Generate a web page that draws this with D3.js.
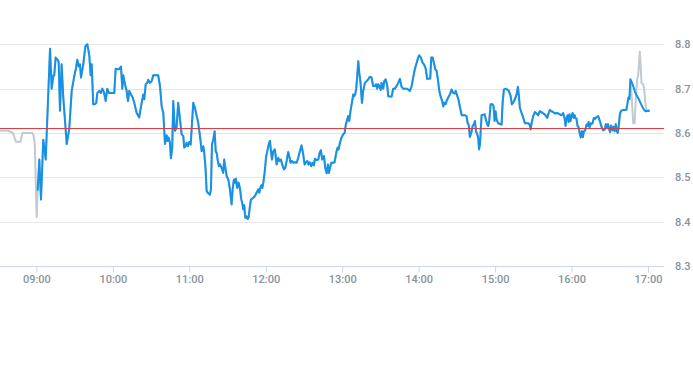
<!DOCTYPE html>
<html><head><meta charset="utf-8">
<script src="https://cdn.jsdelivr.net/npm/d3@7"></script>
<style>
html,body{margin:0;padding:0;background:#fff;}
svg{display:block;}
text{font-family:Roboto,"Liberation Sans",sans-serif;}
</style></head>
<body>
<svg id="chart" width="693" height="365"></svg>
<script>
// ---- data ----
const hourTicks = ["09:00","10:00","11:00","12:00","13:00","14:00","15:00","16:00","17:00"];
const priceTicks = [8.3, 8.4, 8.5, 8.6, 8.7, 8.8];
const referencePrice = 8.61;

// pre-market (minutes relative to 09:00)
const preMinutes = [-28.6,-22.3,-18.4,-16.0,-12.5,-11.0,-3.2,-2.3,-1.3,0.2];
const prePrices  = [8.605,8.605,8.60,8.58,8.58,8.60,8.60,8.595,8.578,8.41];

// main session (minutes after 09:00)
const sessionMinutes = [1.0,2.3,3.6,5.4,7.3,10.7,12.0,13.3,14.0,15.1,16.7,17.5,18.5,19.8,21.1,23.8,25.8,27.7,29.5,31.0,32.1,33.2,34.2,35.0,36.8,38.4,40.0,41.5,42.6,43.4,44.6,46.0,47.0,47.8,49.3,50.7,51.7,53.0,54.4,55.6,57.0,61.1,62.2,63.8,65.0,66.4,67.4,68.2,69.5,70.8,71.9,72.9,74.2,75.6,76.8,78.7,80.7,82.1,83.9,84.7,85.8,87.0,87.8,89.1,90.5,91.7,95.6,97.0,98.3,99.6,100.9,102.2,103.0,103.8,104.8,105.6,106.6,107.4,108.7,110.0,111.3,112.7,114.0,115.3,116.0,117.1,117.9,118.9,120.0,121.1,123.1,124.4,125.8,127.0,128.4,129.7,131.0,131.7,132.8,133.6,134.9,136.2,137.0,137.8,138.8,139.9,140.7,141.5,142.2,143.3,144.1,145.4,146.6,147.4,148.5,149.3,150.6,151.9,153.2,154.0,155.0,155.8,156.6,157.6,158.7,159.7,160.8,161.6,162.3,163.1,163.9,165.0,165.8,166.6,167.6,168.4,170.2,171.5,172.8,174.1,174.9,175.7,176.5,177.3,178.1,179.1,180.2,181.2,182.3,183.3,184.1,184.9,185.9,187.2,188.5,189.8,190.6,191.9,192.9,194.3,195.3,196.4,197.6,198.4,199.5,200.5,201.6,202.9,204.2,205.5,206.8,208.1,209.4,210.5,211.5,212.6,213.6,214.7,215.7,216.8,217.8,218.6,219.9,221.2,222.3,223.3,224.3,225.7,226.7,227.8,228.8,229.6,230.4,231.4,233.0,234.0,235.6,236.4,237.2,238.2,239.5,240.8,241.9,242.9,243.9,244.7,245.5,246.3,247.1,247.9,248.6,249.4,250.2,251.0,251.8,252.6,253.4,254.4,255.5,256.5,257.8,259.2,260.4,261.8,263.1,264.3,265.7,266.5,267.5,268.3,269.1,270.2,270.9,272.2,273.0,274.1,275.4,276.1,277.5,278.8,280.0,281.4,282.7,284.0,285.3,286.6,287.9,290.5,291.8,293.1,294.5,295.7,297.0,298.4,299.6,300.4,301.8,303.1,304.1,305.4,306.7,309.1,309.9,311.0,312.0,313.0,314.1,315.1,316.2,317.2,318.5,319.3,320.1,321.2,321.9,323.2,324.5,325.8,327.1,328.4,329.1,329.9,331.2,332.5,333.8,336.4,337.6,338.4,339.4,340.2,341.6,342.4,343.4,344.2,345.0,346.0,346.8,347.4,348.1,349.4,351.8,352.8,353.8,354.6,355.4,356.5,358.0,358.8,359.6,360.4,361.2,362.4,365.1,365.9,366.9,368.2,369.5,370.8,372.2,373.1,374.2,375.5,376.9,377.9,378.7,379.4,380.8,382.1,383.4,386.0,387.1,387.9,388.7,389.9,391.2,392.5,393.8,395.1,396.4,397.7,399.0,400.9,401.7,403.0,404.3,405.6,406.9,408.2,409.5,410.8,412.1,413.4,414.5,415.3,416.1,416.9,417.7,418.4,419.2,420.0,420.8,421.6,422.4,423.1,423.9,424.7,425.7,426.5,427.3,428.1,428.9,429.7,430.7,431.8,432.6,433.4,434.2,434.9,435.7,436.5,437.5,438.5,439.6,440.9,442.2,443.5,444.8,446.1,446.9,448.0,448.7,449.5,450.3,451.1,452.2,453.0,453.8,454.8,455.6,456.3,457.1,457.9,458.7,460.0,463.0,463.8,464.6,465.4,466.2,467.5,468.8,470.1,471.5,472.8,474.1,475.4,476.7,478.0,481.4];
const sessionPrices = [8.47,8.54,8.45,8.585,8.54,8.79,8.70,8.73,8.73,8.77,8.765,8.76,8.65,8.755,8.68,8.575,8.61,8.695,8.725,8.745,8.765,8.75,8.755,8.725,8.755,8.795,8.80,8.775,8.73,8.755,8.665,8.665,8.668,8.69,8.695,8.69,8.70,8.692,8.672,8.70,8.69,8.69,8.745,8.744,8.744,8.75,8.70,8.73,8.71,8.695,8.672,8.695,8.687,8.68,8.668,8.645,8.635,8.66,8.687,8.676,8.71,8.713,8.72,8.713,8.717,8.73,8.73,8.706,8.66,8.645,8.575,8.595,8.582,8.59,8.578,8.543,8.567,8.672,8.605,8.612,8.668,8.63,8.597,8.593,8.567,8.57,8.578,8.57,8.58,8.574,8.668,8.657,8.638,8.623,8.593,8.559,8.57,8.557,8.518,8.469,8.464,8.461,8.473,8.574,8.585,8.604,8.559,8.555,8.54,8.525,8.529,8.521,8.51,8.54,8.518,8.503,8.495,8.473,8.439,8.473,8.495,8.488,8.497,8.476,8.488,8.476,8.45,8.442,8.428,8.437,8.409,8.412,8.406,8.41,8.435,8.45,8.454,8.458,8.465,8.473,8.465,8.476,8.482,8.476,8.488,8.51,8.544,8.559,8.574,8.582,8.559,8.54,8.559,8.563,8.529,8.544,8.537,8.54,8.529,8.518,8.521,8.537,8.557,8.548,8.533,8.537,8.533,8.534,8.533,8.544,8.559,8.572,8.552,8.529,8.533,8.537,8.529,8.534,8.525,8.533,8.527,8.542,8.539,8.54,8.555,8.561,8.54,8.548,8.521,8.509,8.529,8.51,8.521,8.533,8.533,8.534,8.559,8.567,8.563,8.578,8.59,8.597,8.60,8.62,8.63,8.638,8.627,8.645,8.66,8.672,8.687,8.683,8.687,8.70,8.728,8.762,8.736,8.713,8.668,8.695,8.713,8.717,8.721,8.727,8.725,8.706,8.706,8.71,8.70,8.71,8.706,8.697,8.713,8.70,8.717,8.721,8.706,8.683,8.682,8.682,8.70,8.70,8.706,8.713,8.722,8.704,8.70,8.70,8.698,8.695,8.706,8.725,8.744,8.758,8.77,8.775,8.77,8.758,8.755,8.747,8.722,8.723,8.77,8.77,8.758,8.744,8.74,8.721,8.695,8.683,8.672,8.66,8.668,8.665,8.672,8.68,8.687,8.698,8.69,8.689,8.695,8.687,8.676,8.657,8.64,8.64,8.638,8.623,8.617,8.591,8.604,8.616,8.62,8.627,8.604,8.597,8.587,8.563,8.574,8.64,8.642,8.63,8.62,8.616,8.627,8.665,8.665,8.66,8.627,8.649,8.63,8.622,8.619,8.668,8.698,8.70,8.698,8.695,8.683,8.665,8.668,8.676,8.687,8.704,8.683,8.657,8.645,8.634,8.622,8.622,8.619,8.608,8.623,8.638,8.647,8.644,8.64,8.649,8.647,8.644,8.642,8.634,8.642,8.652,8.649,8.647,8.644,8.645,8.644,8.642,8.64,8.645,8.634,8.616,8.634,8.64,8.625,8.642,8.627,8.638,8.645,8.634,8.64,8.634,8.632,8.616,8.612,8.597,8.59,8.604,8.591,8.604,8.606,8.619,8.616,8.625,8.612,8.622,8.62,8.622,8.634,8.632,8.636,8.638,8.627,8.614,8.606,8.608,8.62,8.612,8.62,8.608,8.602,8.617,8.606,8.614,8.604,8.62,8.604,8.60,8.616,8.642,8.649,8.652,8.652,8.665,8.68,8.676,8.721,8.713,8.702,8.69,8.683,8.676,8.668,8.66,8.653,8.649,8.65];

// grey (all-trades) series diverges at the close
const tailMinutes = [466.8,468.4,469.5,470.5,471.5,472.3,473.6,474.1,474.9,476.2,477.0,477.8,478.9,481.0];
const tailPrices  = [8.70,8.622,8.622,8.68,8.721,8.73,8.783,8.76,8.713,8.71,8.70,8.67,8.652,8.652];

// ---- build ----
const base = new Date(2024,0,2,9,0,0);
const toDate = m => new Date(base.getTime() + m*60000);
const mk = (ms, ps) => ms.map((m,i)=>({t:toDate(m), v:ps[i]}));

const pre = mk(preMinutes, prePrices);
const session = mk(sessionMinutes, sessionPrices);
const tail = mk(tailMinutes, tailPrices);
const splitAt = 466.2;
const grey = pre.concat(session.filter((d,i)=>sessionMinutes[i] <= splitAt), tail);

const svg = d3.select("#chart");
const plotRight = 664;

const x = d3.scaleTime()
  .domain([toDate(0), toDate(480)])
  .range([36.4, 648]);
const y = d3.scaleLinear()
  .domain([8.3, 8.8])
  .range([266, 44.3]);

// grid
svg.append("g").selectAll("line")
  .data(priceTicks.slice(1))
  .join("line")
  .attr("x1", 0).attr("x2", plotRight)
  .attr("y1", d=>Math.round(y(d))+0.5).attr("y2", d=>Math.round(y(d))+0.5)
  .attr("stroke", "#e6e6e6").attr("stroke-width", 1);

// y labels
svg.append("g").selectAll("text")
  .data(priceTicks)
  .join("text")
  .attr("x", 675).attr("y", d=>y(d)+4)
  .attr("font-size", 11).attr("font-weight", 500).attr("fill", "#89929c")
  .text(d=>d.toFixed(1));

// x axis
const parse = d3.timeParse("%H:%M");
const tickDates = hourTicks.map(s=>{const p=parse(s); return new Date(2024,0,2,p.getHours(),p.getMinutes());});
const xAxis = d3.axisBottom(x)
  .tickValues(tickDates)
  .tickFormat(d3.timeFormat("%H:%M"))
  .tickSize(6).tickSizeOuter(0);
const gx = svg.append("g").attr("transform", "translate(0,266.5)").call(xAxis);
gx.select(".domain").remove();
gx.append("line").attr("x1",0).attr("x2",plotRight).attr("y1",0).attr("y2",0).attr("stroke","#ccd6eb");
gx.selectAll(".tick line").attr("stroke","#ccd6eb");
gx.selectAll(".tick text").attr("font-size",11).attr("font-weight",500).attr("fill","#89929c").attr("dy","0.9em").attr("y",7)
  .attr("font-family","Roboto, sans-serif");

// lines
const line = d3.line().x(d=>x(d.t)).y(d=>y(d.v));
svg.append("path").datum(grey).attr("d", line)
  .attr("fill","none").attr("stroke","#c2c9d1").attr("stroke-width",2).attr("stroke-linejoin","round");
svg.append("path").datum(session).attr("d", line)
  .attr("fill","none").attr("stroke","#1592e6").attr("stroke-width",2).attr("stroke-linejoin","round");

// reference line
svg.append("line")
  .attr("x1",0).attr("x2",plotRight)
  .attr("y1",y(referencePrice)).attr("y2",y(referencePrice))
  .attr("stroke","#e0383e").attr("stroke-width",1);
</script>
</body></html>
